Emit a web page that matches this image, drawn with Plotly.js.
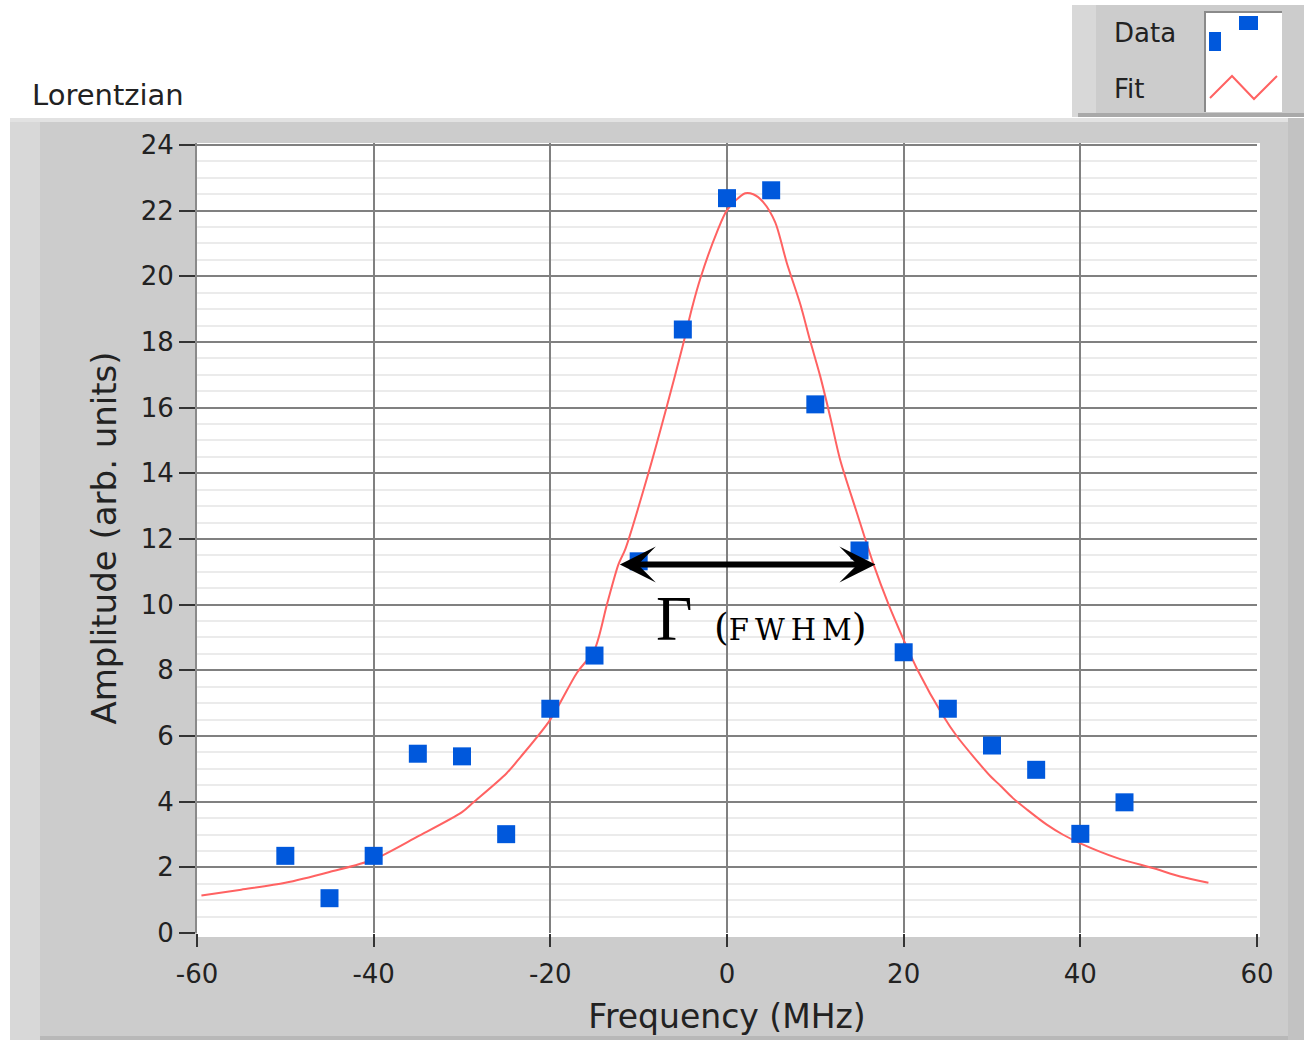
<!DOCTYPE html>
<html>
<head>
<meta charset="utf-8">
<script src="https://cdn.plot.ly/plotly-3.0.1.min.js"></script>
<style>html,body{margin:0;padding:0;background:#fff;}#chart{width:1304px;height:1040px;}</style>
</head>
<body>
<div id="chart"></div>
<script>
// ---- data ----
const freq = [-50, -45, -40, -35, -30, -25, -20, -15, -10, -5, 0, 5, 10, 15, 20, 25, 30, 35, 40, 45];
const amplitude = [2.35, 1.06, 2.35, 5.46, 5.38, 3.01, 6.83, 8.45, 11.32, 18.38, 22.38, 22.62, 16.1, 11.65, 8.55, 6.83, 5.71, 4.97, 3.02, 3.98];

const fitFreq = [-59.5, -55, -50, -45, -40, -35, -30, -28.7, -25, -23.4, -20, -17.0, -15, -13.6, -12.3, -11.5, -8.9, -6.8, -4.9, -4.0, -3.0, -1.15, 0.06, 2.06, 2.97, 4.1, 5.45, 6.78, 8.3, 9.4, 10.55, 11.7, 12.8, 14.7, 16.6, 18.3, 20.0, 21.5, 24.5, 26.0, 29.8, 30.9, 32.4, 34.0, 36.2, 38.0, 40.0, 44.2, 48.3, 51.3, 54.5];
const fitAmp  = [1.14, 1.32, 1.53, 1.86, 2.24, 2.94, 3.68, 3.98, 4.85, 5.35, 6.5, 7.92, 8.63, 10.0, 11.22, 11.7, 14.0, 16.05, 18.0, 19.0, 19.95, 21.34, 22.04, 22.53, 22.5, 22.26, 21.65, 20.4, 19.15, 18.05, 16.96, 15.7, 14.42, 12.8, 11.22, 10.0, 8.93, 8.05, 6.6, 6.0, 4.78, 4.5, 4.1, 3.75, 3.3, 3.0, 2.73, 2.28, 1.97, 1.72, 1.53];

const xTickVals = [-60, -40, -20, 0, 20, 40, 60];
const xTickText = ['-60', '-40', '-20', '0', '20', '40', '60'];
const yTickVals = [0, 2, 4, 6, 8, 10, 12, 14, 16, 18, 20, 22, 24];
const yTickText = ['0', '2', '4', '6', '8', '10', '12', '14', '16', '18', '20', '22', '24'];

const fwhmLeft = -12.3;
const fwhmRight = 16.8;
const halfMax = 11.22;
const gammaLabelX = -8.3;
const gammaLabelY = 9.55;
const fwhmLabelX = -1.7;
const fwhmLabelY = 9.32;

const chartTitle = 'Lorentzian';
const seriesNames = ['Data', 'Fit'];

// ---- layout helpers (pixel -> paper) ----
const PL = 197, PR = 1257, PT = 143, PB = 933;
const W = PR - PL, H = PB - PT;
const px = v => (v - PL) / W;
const py = v => (PB - v) / H;
function rect(x0, y0, x1, y1, fill, line) {
  return {type: 'rect', xref: 'paper', yref: 'paper', layer: 'below',
    x0: px(x0), x1: px(x1), y0: py(y1), y1: py(y0), fillcolor: fill,
    line: line || {width: 0}};
}
function pathP(points, color, width) {
  const d = points.map((p, i) => (i ? 'L' : 'M') + px(p[0]).toFixed(5) + ',' + py(p[1]).toFixed(5)).join(' ');
  return {type: 'path', xref: 'paper', yref: 'paper', layer: 'below', path: d,
    line: {color: color, width: width}};
}

const BLUE = '#0058DC';
const RED = '#FF6262';
const TXT = '#222222';

const shapes = [
  // main frame
  rect(10, 118, 1304, 1040, '#CCCCCC'),
  rect(10, 118, 40, 1040, '#D8D8D8'),
  rect(10, 118, 1304, 122, '#E2E2E2'),
  rect(40, 1036, 1304, 1040, '#B8B8B8'),
  rect(1288, 118, 1304, 1040, '#C2C2C2'),
  // plot area
  rect(PL, PT, 1260, 937, '#FFFFFF'),
  // legend panel
  rect(1072, 5, 1304, 117, '#CCCCCC'),
  rect(1072, 5, 1096, 117, '#D8D8D8'),
  rect(1078, 113, 1304, 117, '#A9A9A9'),
  rect(1205, 12, 1282, 112, '#FFFFFF'),
  pathP([[1205, 112], [1205, 12], [1282, 12]], '#8A8A8A', 2),
  rect(1239, 16, 1258, 30, BLUE),
  rect(1209, 32, 1221, 51, BLUE),
  pathP([[1210, 98], [1232, 76], [1254, 99], [1277, 76]], RED, 2)
];

const annotations = [
  {xref: 'paper', yref: 'paper', x: px(30), y: py(95), xanchor: 'left', yanchor: 'middle',
   text: chartTitle, showarrow: false, font: {family: 'DejaVu Sans', size: 29, color: TXT}},
  {xref: 'paper', yref: 'paper', x: px(1112), y: py(33), xanchor: 'left', yanchor: 'middle',
   text: seriesNames[0], showarrow: false, font: {family: 'DejaVu Sans', size: 26, color: TXT}},
  {xref: 'paper', yref: 'paper', x: px(1112), y: py(89), xanchor: 'left', yanchor: 'middle',
   text: seriesNames[1], showarrow: false, font: {family: 'DejaVu Sans', size: 26, color: TXT}},
  // FWHM double arrow
  {xref: 'x', yref: 'y', axref: 'x', ayref: 'y', x: fwhmRight, y: halfMax, ax: fwhmLeft, ay: halfMax,
   text: '', showarrow: true, arrowside: 'end+start', arrowhead: 3, startarrowhead: 3,
   arrowsize: 1, startarrowsize: 1, arrowwidth: 6, arrowcolor: '#000000', standoff: 0, startstandoff: 0},
  {xref: 'x', yref: 'y', x: gammaLabelX, y: gammaLabelY, xanchor: 'left', yanchor: 'middle', showarrow: false,
   text: 'Γ', font: {family: 'Liberation Serif', size: 63, color: '#000000'}},
  {xref: 'x', yref: 'y', x: fwhmLabelX, y: fwhmLabelY, xanchor: 'left', yanchor: 'middle', showarrow: false,
   text: '<span style="font-size:38px">(</span><span style="letter-spacing:6px">FWH</span>M<span style="font-size:38px">)</span>',
   font: {family: 'DejaVu Serif', size: 29, color: '#000000'}}
];

const traces = [
  {x: fitFreq, y: fitAmp, type: 'scatter', mode: 'lines', name: seriesNames[1],
   line: {color: RED, width: 2, shape: 'spline', smoothing: 0.8}, hoverinfo: 'skip'},
  {x: freq, y: amplitude, type: 'scatter', mode: 'markers', name: seriesNames[0],
   marker: {symbol: 'square', size: 18, color: BLUE, line: {width: 0}}}
];

const layout = {
  width: 1304, height: 1040,
  margin: {l: PL, r: 1304 - PR, t: PT, b: 1040 - PB, pad: 0},
  paper_bgcolor: '#FFFFFF', plot_bgcolor: 'rgba(0,0,0,0)',
  showlegend: false,
  font: {family: 'DejaVu Sans', color: TXT},
  xaxis: {
    range: [-60, 60], tickvals: xTickVals, ticktext: xTickText,
    showgrid: true, gridcolor: '#808080', gridwidth: 2, zeroline: false, showline: false,
    ticks: 'outside', ticklen: 13, tickwidth: 2, tickcolor: '#333333',
    ticklabelstandoff: 5,
    tickfont: {family: 'DejaVu Sans', size: 26, color: TXT},
    title: {text: 'Frequency (MHz)', font: {family: 'DejaVu Sans', size: 33, color: TXT}, standoff: 16},
    fixedrange: true
  },
  yaxis: {
    range: [0, 24.06], tickvals: yTickVals, ticktext: yTickText,
    showgrid: true, gridcolor: '#808080', gridwidth: 2, zeroline: false,
    showline: true, linecolor: '#8A8A8A', linewidth: 2,
    ticks: 'outside', ticklen: 16, tickwidth: 2, tickcolor: '#333333',
    tickfont: {family: 'DejaVu Sans', size: 26, color: TXT},
    minor: {dtick: 0.5, showgrid: true, gridcolor: '#EBEBEB', gridwidth: 2, ticks: ''},
    title: {text: 'Amplitude (arb. units)', font: {family: 'DejaVu Sans', size: 34, color: TXT}, standoff: 14},
    fixedrange: true
  },
  shapes: shapes,
  annotations: annotations
};

Plotly.newPlot('chart', traces, layout, {displayModeBar: false, staticPlot: true});
</script>
</body>
</html>
